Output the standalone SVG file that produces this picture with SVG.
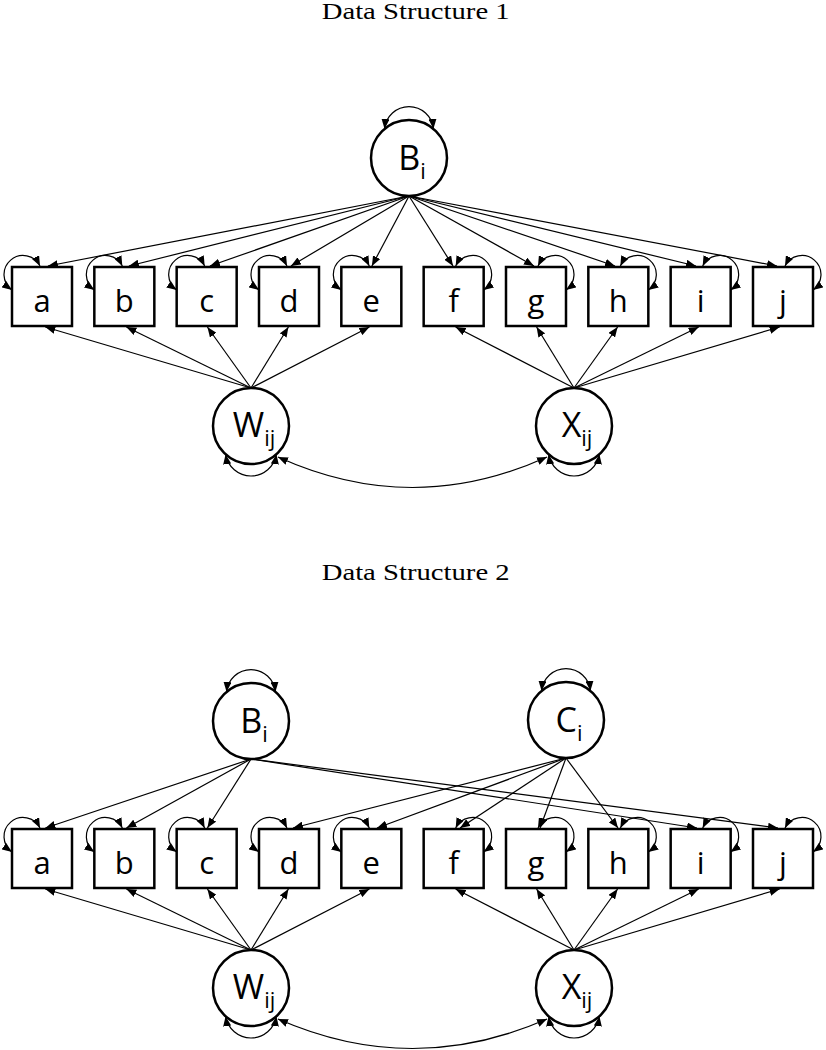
<svg xmlns="http://www.w3.org/2000/svg" width="826" height="1050" viewBox="0 0 826 1050">
<style>
.title{font-family:"Liberation Serif",serif;font-size:23px;fill:#000}
.box{fill:#fff;stroke:#000;stroke-width:2.5}
.circ{fill:#fff;stroke:#000;stroke-width:2.5}
.lbl{font-family:"Open Sans","Liberation Sans",sans-serif;font-size:31px;fill:#000;text-anchor:middle}
.clbl{font-family:"Open Sans","Liberation Sans",sans-serif;font-size:34px;fill:#000;text-anchor:middle}
.sub{font-size:22px}
.edge{fill:none;stroke:#000;stroke-width:1.2;marker-end:url(#ah)}
.loop{fill:none;stroke:#000;stroke-width:1.2;marker-start:url(#ah);marker-end:url(#ah)}
</style>
<defs>
<marker id="ah" viewBox="0 0 10 8" refX="10" refY="4" markerWidth="10" markerHeight="8" markerUnits="userSpaceOnUse" orient="auto-start-reverse">
<path d="M0,0 L10,4 L0,8 z" fill="#000"/>
</marker>
</defs>
<rect width="826" height="1050" fill="#fff"/>

<text class="title" x="321.7" y="19" textLength="188" lengthAdjust="spacingAndGlyphs">Data Structure 1</text>
<text class="title" x="321.7" y="580" textLength="188" lengthAdjust="spacingAndGlyphs">Data Structure 2</text>

<g id="connectors">
<path class="edge" d="M409,196 L47.9,266"/>
<path class="edge" d="M409,196 L128.9,266"/>
<path class="edge" d="M409,196 L209.9,266"/>
<path class="edge" d="M409,196 L290.9,266"/>
<path class="edge" d="M409,196 L371.9,266"/>
<path class="edge" d="M409,196 L453,266"/>
<path class="edge" d="M409,196 L534,266"/>
<path class="edge" d="M409,196 L615,266"/>
<path class="edge" d="M409,196 L696,266"/>
<path class="edge" d="M409,196 L777,266"/>
<path class="edge" d="M251,388 L45.3,327"/>
<path class="edge" d="M251,388 L126.4,327"/>
<path class="edge" d="M251,388 L207.4,327"/>
<path class="edge" d="M251,388 L288.4,327"/>
<path class="edge" d="M251,388 L369.4,327"/>
<path class="edge" d="M574,388 L455.6,327"/>
<path class="edge" d="M574,388 L536.6,327"/>
<path class="edge" d="M574,388 L617.6,327"/>
<path class="edge" d="M574,388 L698.7,327"/>
<path class="edge" d="M574,388 L779.6,327"/>
<path class="loop" d="M12,290 A19,19 0 1 1 40,266"/>
<path class="loop" d="M94.33,290 A19,19 0 1 1 122.33,266"/>
<path class="loop" d="M176.67,290 A19,19 0 1 1 204.67,266"/>
<path class="loop" d="M259,290 A19,19 0 1 1 287,266"/>
<path class="loop" d="M341.33,290 A19,19 0 1 1 369.33,266"/>
<path class="loop" d="M455.67,266 A19,19 0 1 1 483.67,290"/>
<path class="loop" d="M538,266 A19,19 0 1 1 566,290"/>
<path class="loop" d="M620.33,266 A19,19 0 1 1 648.33,290"/>
<path class="loop" d="M702.67,266 A19,19 0 1 1 730.67,290"/>
<path class="loop" d="M785,266 A19,19 0 1 1 813,290"/>
<path class="loop" d="M384.6,128.9 A24.5,24.5 0 0 1 433.4,128.9"/>
<path class="loop" d="M276.4,454.2 A25.7,25.7 0 0 1 225.6,454.2"/>
<path class="loop" d="M599.4,454.2 A25.7,25.7 0 0 1 548.6,454.2"/>
<path class="loop" d="M278,457 Q412.5,518 547,457"/>

<path class="edge" d="M251,759 L45.4,828"/>
<path class="edge" d="M251,759 L126.4,828"/>
<path class="edge" d="M251,759 L207.4,828"/>
<path class="edge" d="M251,759 L697,828"/>
<path class="edge" d="M251,759 L778,828"/>
<path class="edge" d="M566,758 L293,828"/>
<path class="edge" d="M566,758 L377,828"/>
<path class="edge" d="M566,758 L460,828"/>
<path class="edge" d="M566,758 L540,828"/>
<path class="edge" d="M566,758 L618,828"/>
<path class="edge" d="M251,950 L45.3,889"/>
<path class="edge" d="M251,950 L126.4,889"/>
<path class="edge" d="M251,950 L207.4,889"/>
<path class="edge" d="M251,950 L288.4,889"/>
<path class="edge" d="M251,950 L369.4,889"/>
<path class="edge" d="M574,950 L455.6,889"/>
<path class="edge" d="M574,950 L536.6,889"/>
<path class="edge" d="M574,950 L617.6,889"/>
<path class="edge" d="M574,950 L698.7,889"/>
<path class="edge" d="M574,950 L779.6,889"/>
<path class="loop" d="M12,852 A19,19 0 1 1 40,828"/>
<path class="loop" d="M94.33,852 A19,19 0 1 1 122.33,828"/>
<path class="loop" d="M176.67,852 A19,19 0 1 1 204.67,828"/>
<path class="loop" d="M259,852 A19,19 0 1 1 287,828"/>
<path class="loop" d="M341.33,852 A19,19 0 1 1 369.33,828"/>
<path class="loop" d="M455.67,828 A19,19 0 1 1 483.67,852"/>
<path class="loop" d="M538,828 A19,19 0 1 1 566,852"/>
<path class="loop" d="M620.33,828 A19,19 0 1 1 648.33,852"/>
<path class="loop" d="M702.67,828 A19,19 0 1 1 730.67,852"/>
<path class="loop" d="M785,828 A19,19 0 1 1 813,852"/>
<path class="loop" d="M226.6,691.9 A24.5,24.5 0 0 1 275.4,691.9"/>
<path class="loop" d="M541.6,690.9 A24.5,24.5 0 0 1 590.4,690.9"/>
<path class="loop" d="M276.4,1016.2 A25.7,25.7 0 0 1 225.6,1016.2"/>
<path class="loop" d="M599.4,1016.2 A25.7,25.7 0 0 1 548.6,1016.2"/>
<path class="loop" d="M278,1019 Q412.5,1078 547,1019"/>
</g>

<g id="d1-B"><circle class="circ" cx="409" cy="158" r="38"/><text class="clbl" x="412" y="170">B<tspan class="sub" dy="9">i</tspan></text></g>
<g id="d1-W"><circle class="circ" cx="251" cy="426" r="38"/><text class="clbl" x="254" y="437">W<tspan class="sub" dy="9">ij</tspan></text></g>
<g id="d1-X"><circle class="circ" cx="574" cy="426" r="38"/><text class="clbl" x="577" y="437">X<tspan class="sub" dy="9">ij</tspan></text></g>
<g id="d1-a"><rect class="box" x="12" y="267" width="60" height="59"/><text class="lbl" x="42" y="312">a</text></g>
<g id="d1-b"><rect class="box" x="94.33" y="267" width="60" height="59"/><text class="lbl" x="124.33" y="312">b</text></g>
<g id="d1-c"><rect class="box" x="176.67" y="267" width="60" height="59"/><text class="lbl" x="206.67" y="312">c</text></g>
<g id="d1-d"><rect class="box" x="259" y="267" width="60" height="59"/><text class="lbl" x="289" y="312">d</text></g>
<g id="d1-e"><rect class="box" x="341.33" y="267" width="60" height="59"/><text class="lbl" x="371.33" y="312">e</text></g>
<g id="d1-f"><rect class="box" x="423.67" y="267" width="60" height="59"/><text class="lbl" x="453.67" y="312">f</text></g>
<g id="d1-g"><rect class="box" x="506" y="267" width="60" height="59"/><text class="lbl" x="536" y="312">g</text></g>
<g id="d1-h"><rect class="box" x="588.33" y="267" width="60" height="59"/><text class="lbl" x="618.33" y="312">h</text></g>
<g id="d1-i"><rect class="box" x="670.67" y="267" width="60" height="59"/><text class="lbl" x="700.67" y="312">i</text></g>
<g id="d1-j"><rect class="box" x="753" y="267" width="60" height="59"/><text class="lbl" x="783" y="312">j</text></g>

<g id="d2-B"><circle class="circ" cx="251" cy="721" r="38"/><text class="clbl" x="254" y="733">B<tspan class="sub" dy="9">i</tspan></text></g>
<g id="d2-C"><circle class="circ" cx="566" cy="720" r="38"/><text class="clbl" x="569" y="732">C<tspan class="sub" dy="9">i</tspan></text></g>
<g id="d2-W"><circle class="circ" cx="251" cy="988" r="38"/><text class="clbl" x="254" y="999">W<tspan class="sub" dy="9">ij</tspan></text></g>
<g id="d2-X"><circle class="circ" cx="574" cy="988" r="38"/><text class="clbl" x="577" y="999">X<tspan class="sub" dy="9">ij</tspan></text></g>
<g id="d2-a"><rect class="box" x="12" y="829" width="60" height="59"/><text class="lbl" x="42" y="874">a</text></g>
<g id="d2-b"><rect class="box" x="94.33" y="829" width="60" height="59"/><text class="lbl" x="124.33" y="874">b</text></g>
<g id="d2-c"><rect class="box" x="176.67" y="829" width="60" height="59"/><text class="lbl" x="206.67" y="874">c</text></g>
<g id="d2-d"><rect class="box" x="259" y="829" width="60" height="59"/><text class="lbl" x="289" y="874">d</text></g>
<g id="d2-e"><rect class="box" x="341.33" y="829" width="60" height="59"/><text class="lbl" x="371.33" y="874">e</text></g>
<g id="d2-f"><rect class="box" x="423.67" y="829" width="60" height="59"/><text class="lbl" x="453.67" y="874">f</text></g>
<g id="d2-g"><rect class="box" x="506" y="829" width="60" height="59"/><text class="lbl" x="536" y="874">g</text></g>
<g id="d2-h"><rect class="box" x="588.33" y="829" width="60" height="59"/><text class="lbl" x="618.33" y="874">h</text></g>
<g id="d2-i"><rect class="box" x="670.67" y="829" width="60" height="59"/><text class="lbl" x="700.67" y="874">i</text></g>
<g id="d2-j"><rect class="box" x="753" y="829" width="60" height="59"/><text class="lbl" x="783" y="874">j</text></g>
</svg>
